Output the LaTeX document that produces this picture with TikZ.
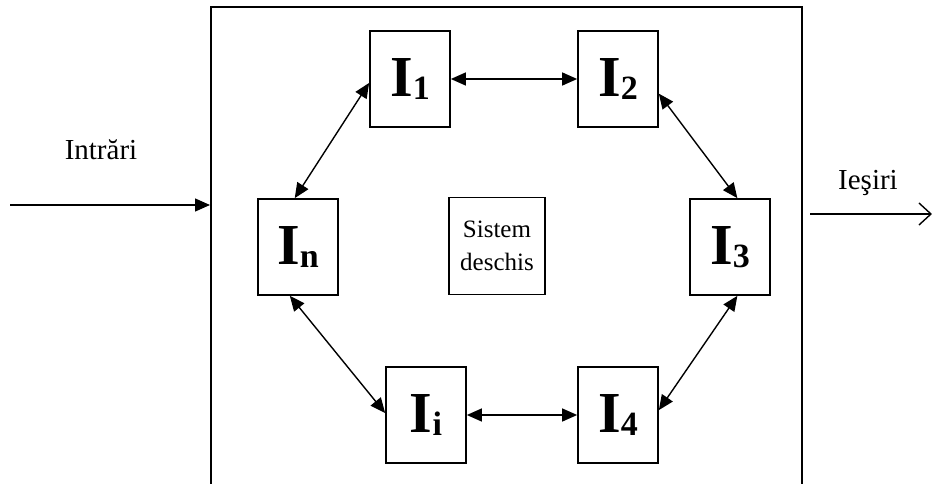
\documentclass[tikz,border=0pt]{standalone}
\usepackage{fontspec}
\setmainfont{Liberation Serif}
\usetikzlibrary{arrows.meta,calc}
% bold I with a lowered index
\newcommand\subI[1]{I\raisebox{-0.06em}{\fontsize{34}{34}\selectfont\bfseries #1}}
\begin{document}
\begin{tikzpicture}[x=1pt,y=-1pt,
  elem/.style={draw,line width=1.7pt,minimum width=80pt,minimum height=96pt,
    inner sep=0pt,font=\fontsize{58}{60}\selectfont\bfseries},
  link/.style={line width=1.4pt,{Triangle[length=15pt,width=13pt]}-{Triangle[length=15pt,width=13pt]}},
  lbl/.style={font=\fontsize{29}{33}\selectfont}]
\useasboundingbox (0,0) rectangle (932,484);

% open-bottom system frame
\draw[line width=2.8pt] (211,484) -- (211,7) -- (802,7) -- (802,484);

% elements of the system
\node[elem] (i1) at (410,79)  {\subI{1}};
\node[elem] (i2) at (618,79)  {\subI{2}};
\node[elem] (in) at (298,247) {\subI{n}};
\node[elem] (i3) at (730,247) {\subI{3}};
\node[elem] (ii) at (426,415) {\subI{i}};
\node[elem] (i4) at (618,415) {\subI{4}};

\node[draw,line width=1.7pt,minimum width=96pt,minimum height=97pt,
  align=center,font=\fontsize{25}{33}\selectfont] (sys) at (497,246) {Sistem\\deschis};

% links between elements
\draw[link] (i1.east) -- (i2.west);
\draw[link] ($(i2.north east)!0.65!(i2.south east)$) -- ($(i3.north west)!0.59!(i3.north east)$);
\draw[link] ($(i3.south west)!0.59!(i3.south east)$) -- ($(i4.north east)!0.45!(i4.south east)$);
\draw[link] (ii.east) -- (i4.west);
\draw[link] ($(in.south west)!0.4!(in.south east)$) -- ($(ii.north west)!0.48!(ii.south west)$);
\draw[link] ($(in.north west)!0.46!(in.north east)$) -- ($(i1.north west)!0.54!(i1.south west)$);

% inputs and outputs
\coordinate (inL) at (10,205);
\coordinate (inR) at (210,205);
\draw[line width=1.4pt,-{Triangle[length=15pt,width=13pt]}] (inL) -- (inR);
\node[lbl] (intr) at (101,150) {Intrări};

\coordinate (outL) at (810,214);
\coordinate (outR) at (932,214);
\draw[line width=1.4pt,-{Straight Barb[length=12pt,width=22pt]}] (outL) -- (outR);
\node[lbl] (ies) at (868,183) {Ieşiri};
\end{tikzpicture}
\end{document}
